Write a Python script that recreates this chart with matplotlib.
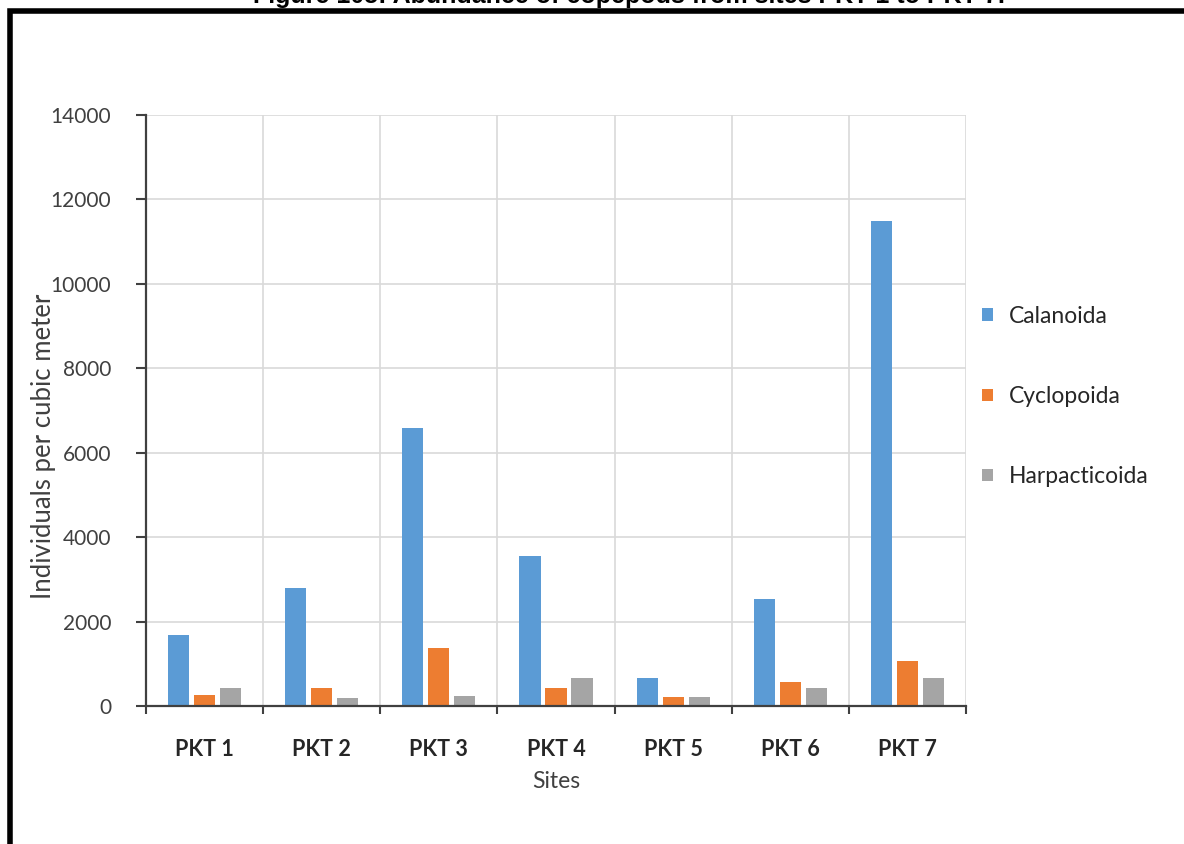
import matplotlib
matplotlib.use("Agg")
import matplotlib.pyplot as plt
import numpy as np
from matplotlib.patches import Rectangle
from matplotlib.ticker import FixedLocator, MultipleLocator

sites = ["PKT 1", "PKT 2", "PKT 3", "PKT 4", "PKT 5", "PKT 6", "PKT 7"]
calanoida = [1680, 2790, 6575, 3550, 660, 2530, 11490]
cyclopoida = [260, 425, 1370, 425, 210, 570, 1065]
harpacticoida = [425, 190, 230, 660, 210, 425, 660]
series_names = ["Calanoida", "Cyclopoida", "Harpacticoida"]
colors = ["#5B9BD5", "#ED7D31", "#A5A5A5"]
title = "Figure 105: Abundance of copepods from sites PKT 1 to PKT 7."

W, H = 1184, 844
fig = plt.figure(figsize=(W / 100, H / 100), dpi=100)
fig.patch.set_facecolor("white")

def fx(px):
    return px / W

def fy(py):
    return 1 - py / H

ax = fig.add_axes([fx(146), fy(706), fx(966) - fx(146), fy(115) - fy(706)])

x = np.arange(len(sites))
width = 0.18
step = 0.222
for i, (vals, name, c) in enumerate(zip([calanoida, cyclopoida, harpacticoida], series_names, colors)):
    ax.bar(x + (i - 1) * step, vals, width=width, color=c, label=name, zorder=3)

ax.set_xlim(-0.5, len(sites) - 0.5)
ax.set_ylim(0, 14000)
ax.yaxis.set_major_locator(MultipleLocator(2000))
ax.set_xticks(x)
ax.set_xticklabels(sites, fontfamily="Lato", fontweight="bold", fontsize=15.5, color="#262626")
ax.xaxis.set_minor_locator(FixedLocator(np.arange(-0.5, len(sites), 1.0)))
ax.tick_params(axis="x", which="major", length=0, pad=24)
ax.tick_params(axis="x", which="minor", length=6, width=1.5, color="#404040", direction="out")
ax.tick_params(axis="y", which="major", length=7, width=1.5, color="#404040", direction="out",
               pad=18, labelsize=15, labelcolor="#404040")
for lab in ax.get_yticklabels():
    lab.set_fontfamily("Lato")

ax.grid(axis="y", which="major", color="#D9D9D9", linewidth=1.2, zorder=0)
ax.grid(axis="x", which="minor", color="#D9D9D9", linewidth=1.2, zorder=0)
ax.grid(axis="x", which="major", visible=False)
for s in ["top", "right"]:
    ax.spines[s].set_visible(False)
for s in ["left", "bottom"]:
    ax.spines[s].set_color("#404040")
    ax.spines[s].set_linewidth(1.6)
    ax.spines[s].set_zorder(4)

fig.text(fx(556), fy(781), "Sites", ha="center", va="center", fontfamily="Lato",
         fontsize=16.5, color="#404040")
fig.text(fx(44), fy(446), "Individuals per cubic meter", ha="center", va="center",
         rotation=90, fontfamily="Lato", fontsize=18.5, color="#404040")

leg = ax.legend(loc="upper left", bbox_to_anchor=(fx(982), fy(306)), bbox_transform=fig.transFigure,
                frameon=False, prop={"family": "Lato", "size": 16.5}, handlelength=0.48,
                handleheight=0.48, handletextpad=0.7, labelspacing=2.58, borderpad=0,
                borderaxespad=0)
for t in leg.get_texts():
    t.set_color("#262626")

# outer frame
fig.patches.append(Rectangle((fx(10), fy(900)), fx(1300), fy(10.5) - fy(900),
                             transform=fig.transFigure, fill=False, edgecolor="black",
                             linewidth=4, zorder=10))
fig.text(fx(629), fy(3), title, ha="center", va="baseline", fontfamily="Liberation Sans",
         fontweight="bold", fontsize=18, color="black")

fig.savefig("out.png", dpi=100, facecolor="white")
